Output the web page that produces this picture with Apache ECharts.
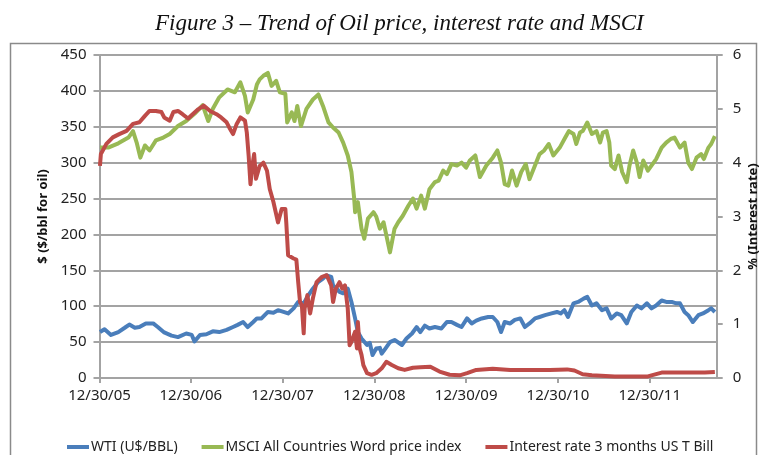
<!DOCTYPE html>
<html>
<head>
<meta charset="utf-8">
<script src="https://cdn.jsdelivr.net/npm/echarts@6/dist/echarts.min.js"></script>
<style>
html,body{margin:0;padding:0;background:#fff;}
#chart{width:760px;height:455px;}
</style>
</head>
<body>
<div id="chart"></div>
<script>
// X axis: decimal years; ticks every year starting 12/30/05
var xTickLabels = ['12/30/05','12/30/06','12/30/07','12/30/08','12/30/09','12/30/10','12/30/11'];
var leftTicks = [0,50,100,150,200,250,300,350,400,450];
var rightTicks = [0,1,2,3,4,5,6];

// WTI (U$/BBL) - left axis
var wtiYears = [2006.00,2006.05,2006.12,2006.20,2006.27,2006.32,2006.38,2006.43,2006.50,2006.58,2006.63,2006.70,2006.78,2006.85,2006.94,2007.00,2007.03,2007.09,2007.16,2007.23,2007.30,2007.38,2007.45,2007.50,2007.56,2007.61,2007.67,2007.71,2007.76,2007.83,2007.89,2007.94,2008.00,2008.05,2008.11,2008.16,2008.22,2008.27,2008.32,2008.38,2008.43,2008.47,2008.52,2008.54,2008.58,2008.61,2008.65,2008.70,2008.74,2008.78,2008.81,2008.85,2008.91,2008.94,2008.97,2009.01,2009.05,2009.07,2009.11,2009.16,2009.21,2009.29,2009.34,2009.40,2009.45,2009.49,2009.54,2009.59,2009.65,2009.72,2009.78,2009.83,2009.89,2009.94,2010.00,2010.05,2010.10,2010.16,2010.23,2010.28,2010.33,2010.37,2010.41,2010.47,2010.52,2010.58,2010.63,2010.68,2010.74,2010.79,2010.85,2010.92,2010.98,2011.02,2011.06,2011.10,2011.16,2011.21,2011.27,2011.31,2011.36,2011.41,2011.47,2011.52,2011.57,2011.63,2011.68,2011.74,2011.79,2011.85,2011.90,2011.96,2012.01,2012.06,2012.12,2012.17,2012.23,2012.28,2012.32,2012.37,2012.41,2012.46,2012.52,2012.57,2012.63,2012.66,2012.70];
var wtiValues = [64,68,60,64,70,74.5,70,71,76,76,71,63.5,59,57,62,60,51,60,61,65,64,67,71,74,78,71,78,83,83,92,91,94.5,92,90,97,106,104,115,124.5,134,138.5,143,141,129,124.5,120,118,124.5,106,83,64,55,46,49,32,41,42,34,41,50,53,46,55,62,71,64,73,69,71,69,78,78,74,71,83,76,80,83,85,85,78,64,78,76,81,83,71,76,83,85,87.5,90,92,90,94.5,85,104,106,110.6,113,101,104,94.5,97,83,90,87.5,76,92,101,97,104,97,101,108,106,106,104,104,92,87.5,78,87.5,90,94.5,97,92];

// MSCI All Countries World price index - left axis
var msciYears = [2006.00,2006.09,2006.20,2006.31,2006.36,2006.40,2006.44,2006.49,2006.54,2006.61,2006.69,2006.76,2006.85,2006.94,2007.03,2007.12,2007.18,2007.23,2007.30,2007.39,2007.47,2007.53,2007.58,2007.61,2007.67,2007.71,2007.74,2007.78,2007.83,2007.87,2007.92,2007.96,2008.02,2008.04,2008.09,2008.12,2008.15,2008.19,2008.25,2008.32,2008.38,2008.43,2008.49,2008.54,2008.60,2008.65,2008.70,2008.74,2008.77,2008.78,2008.81,2008.85,2008.88,2008.92,2008.98,2009.01,2009.05,2009.09,2009.12,2009.16,2009.21,2009.25,2009.30,2009.36,2009.41,2009.45,2009.50,2009.54,2009.59,2009.65,2009.69,2009.74,2009.78,2009.83,2009.89,2009.94,2009.99,2010.03,2010.09,2010.14,2010.21,2010.28,2010.33,2010.37,2010.41,2010.45,2010.49,2010.54,2010.59,2010.64,2010.68,2010.74,2010.79,2010.84,2010.89,2010.94,2011.01,2011.07,2011.11,2011.16,2011.19,2011.23,2011.26,2011.31,2011.36,2011.41,2011.45,2011.48,2011.52,2011.55,2011.57,2011.61,2011.65,2011.69,2011.74,2011.77,2011.81,2011.85,2011.88,2011.92,2011.97,2012.06,2012.12,2012.17,2012.22,2012.26,2012.32,2012.37,2012.41,2012.45,2012.50,2012.55,2012.58,2012.63,2012.66,2012.70];
var msciValues = [321,321,327,335,344,328,307,324,317,331,335,340,351,358,368,380,358,375,391,402,398,412,393,370,388,409,416,421,425,407,414,398,396,356,370,358,379,351,375,388,395,379,356,349,342,328,310,287,250,231,245,208,194,222,231,225,208,217,199,175,208,217,226,240,250,236,254,236,263,273,275,289,284,298,296,300,293,303,310,280,296,307,317,300,270,268,289,268,287,298,277,296,312,317,326,310,321,335,344,340,326,342,344,356,340,344,328,342,344,328,296,291,310,287,273,296,317,300,280,303,289,305,321,328,333,335,321,328,300,291,307,312,305,321,326,337];

// Interest rate 3 months US T Bill (%) - right axis
var rateYears = [2006.00,2006.01,2006.07,2006.14,2006.21,2006.29,2006.36,2006.43,2006.49,2006.54,2006.61,2006.67,2006.70,2006.76,2006.80,2006.85,2006.90,2006.96,2007.01,2007.07,2007.13,2007.20,2007.27,2007.32,2007.38,2007.41,2007.45,2007.49,2007.53,2007.58,2007.60,2007.62,2007.64,2007.66,2007.68,2007.70,2007.74,2007.78,2007.82,2007.85,2007.89,2007.94,2007.98,2008.02,2008.03,2008.05,2008.11,2008.14,2008.16,2008.18,2008.20,2008.22,2008.23,2008.26,2008.29,2008.32,2008.36,2008.42,2008.47,2008.52,2008.54,2008.57,2008.61,2008.64,2008.67,2008.70,2008.72,2008.74,2008.78,2008.80,2008.81,2008.83,2008.85,2008.87,2008.91,2008.96,2009.01,2009.07,2009.12,2009.18,2009.25,2009.32,2009.41,2009.49,2009.60,2009.70,2009.81,2009.92,2010.00,2010.10,2010.28,2010.47,2010.68,2010.90,2011.09,2011.17,2011.26,2011.36,2011.61,2011.79,2011.97,2012.12,2012.34,2012.59,2012.70];
var rateValues = [3.94,4.16,4.35,4.47,4.53,4.59,4.72,4.75,4.87,4.96,4.96,4.94,4.84,4.78,4.94,4.96,4.90,4.82,4.90,4.99,5.06,4.96,4.90,4.84,4.75,4.65,4.53,4.72,4.84,4.78,4.56,4.13,3.60,3.94,4.16,3.70,3.94,4.00,3.85,3.51,3.27,2.89,3.14,3.14,2.89,2.28,2.22,2.20,1.78,1.41,1.35,0.83,1.29,1.54,1.20,1.48,1.78,1.88,1.91,1.72,1.41,1.66,1.78,1.66,1.72,1.29,0.61,0.67,0.86,0.55,1.04,0.55,0.43,0.24,0.09,0.06,0.09,0.18,0.30,0.24,0.18,0.15,0.19,0.20,0.21,0.12,0.06,0.05,0.09,0.15,0.17,0.15,0.15,0.15,0.16,0.14,0.07,0.05,0.03,0.03,0.03,0.10,0.10,0.10,0.11];

var X_MIN = 2005.995;
function zip(xs, ys){ return xs.map(function(x,i){ return [x, ys[i]]; }); }

var chart = echarts.init(document.getElementById('chart'), null, {renderer:'canvas'});
var labelFont = {fontFamily:'Noto Sans', fontSize:15, color:'#222'};
var gridColor = '#a3a3a3';

chart.setOption({
  animation:false,
  backgroundColor:'#fff',
  title:{
    text:'Figure 3 \u2013 Trend of Oil price, interest rate and MSCI',
    left:150, top:7,
    textStyle:{fontFamily:'Liberation Serif', fontStyle:'italic', fontWeight:'normal', fontSize:23, color:'#111'}
  },
  graphic:[{
    type:'rect', silent:true, z:-1,
    shape:{x:10.5, y:43.5, width:746, height:430},
    style:{fill:'none', stroke:'#8a8a8a', lineWidth:1.5}
  }],
  legend:{
    left:62, top:435,
    icon:'rect', itemWidth:22, itemHeight:4, itemGap:24,
    textStyle:{fontFamily:'Noto Sans', fontSize:14, color:'#222', padding:[0,0,0,-3]},
    data:['WTI (U$/BBL)','MSCI All Countries Word price index','Interest rate 3 months US T Bill']
  },
  grid:{left:99.5, right:43.3, top:55, bottom:77, containLabel:false, outerBoundsMode:'none'},
  xAxis:{
    type:'value', min:X_MIN, max:2012.72, interval:1,
    axisLine:{show:true, lineStyle:{color:gridColor, width:2}},
    axisTick:{show:true, length:5, lineStyle:{color:gridColor, width:2}},
    splitLine:{show:false},
    axisLabel:Object.assign({margin:10, showMaxLabel:false, formatter:function(v){
      var k = Math.round(v - X_MIN);
      if (Math.abs(v - (X_MIN + k)) > 0.01) return '';
      return xTickLabels[k] || '';
    }}, labelFont)
  },
  yAxis:[{
    type:'value', min:0, max:450, interval:50, position:'left',
    name:'$ ($/bbl for oil)', nameLocation:'middle', nameGap:42, nameRotate:90,
    nameTextStyle:{fontFamily:'Noto Sans', fontWeight:'bold', fontSize:13, color:'#111'},
    axisLine:{show:true, lineStyle:{color:gridColor, width:2}},
    axisTick:{show:true, length:6, lineStyle:{color:gridColor, width:2}},
    splitLine:{show:true, lineStyle:{color:gridColor, width:2}},
    axisLabel:Object.assign({margin:13, formatter:function(v){ return leftTicks.indexOf(v) >= 0 ? String(v) : ''; }}, labelFont)
  },{
    type:'value', min:0, max:6, interval:1, position:'right',
    name:'% (Interest rate)', nameLocation:'middle', nameGap:30, nameRotate:90, nameMoveOverlap:false,
    nameTextStyle:{fontFamily:'Noto Sans', fontWeight:'bold', fontSize:13, color:'#111'},
    axisLine:{show:true, lineStyle:{color:gridColor, width:2}},
    axisTick:{show:true, length:6, lineStyle:{color:gridColor, width:2}},
    splitLine:{show:false},
    axisLabel:Object.assign({margin:16, formatter:function(v){ return rightTicks.indexOf(v) >= 0 ? String(v) : ''; }}, labelFont)
  }],
  series:[{
    name:'WTI (U$/BBL)', type:'line', yAxisIndex:0, showSymbol:false, symbol:'none',
    color:'#4A7EBB', lineStyle:{width:4, color:'#4A7EBB', join:'round'},
    data:zip(wtiYears, wtiValues)
  },{
    name:'MSCI All Countries Word price index', type:'line', yAxisIndex:0, showSymbol:false, symbol:'none',
    color:'#98B954', lineStyle:{width:4, color:'#98B954', join:'round'},
    data:zip(msciYears, msciValues)
  },{
    name:'Interest rate 3 months US T Bill', type:'line', yAxisIndex:1, showSymbol:false, symbol:'none',
    color:'#BE4B48', lineStyle:{width:4, color:'#BE4B48', join:'round'},
    data:zip(rateYears, rateValues)
  }]
});
</script>
</body>
</html>
